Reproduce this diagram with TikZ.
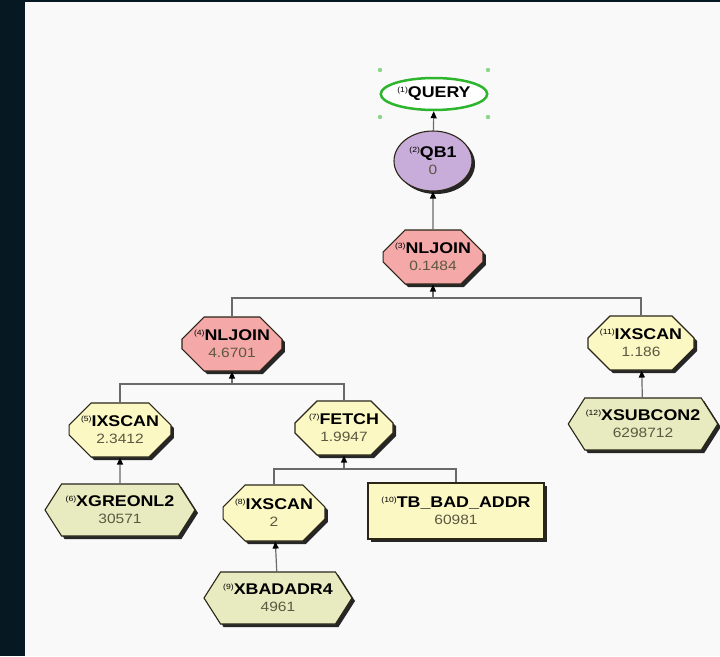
\documentclass[tikz,border=0pt]{standalone}
\usepackage{fontspec}
\setmainfont{Liberation Sans}[FakeStretch=1.15]
\usetikzlibrary{shapes.geometric,shapes.misc,shapes.symbols,shadows,arrows.meta}

\definecolor{backdrop}{HTML}{061821}
\definecolor{panel}{HTML}{F9F9F9}
\definecolor{opyellow}{HTML}{FBF8C4}
\definecolor{ophex}{HTML}{E8EBBF}
\definecolor{oppink}{HTML}{F4A8A8}
\definecolor{oppurple}{HTML}{C8ACD9}
\definecolor{opgreen}{HTML}{2DB52D}
\definecolor{opedge}{HTML}{2B2618}
\definecolor{opwire}{HTML}{6A6A6A}
\definecolor{opnum}{HTML}{5C5842}

\newcommand{\opnr}[1]{{\fontsize{7.5}{8}\selectfont\raisebox{5pt}{(#1)}}}
\newcommand{\oplabel}[3]{\opnr{#1}\textbf{#2}\\{\fontsize{13.5}{17}\selectfont\color{opnum}#3}}

\begin{document}
\begin{tikzpicture}[x=1pt, y=-1pt,
	opplain/.style={draw=opedge, line width=1.1pt, fill=opyellow, align=center, inner sep=1pt,
		font=\fontsize{15.5}{17}\selectfont},
	opbox/.style={opplain, drop shadow={shadow xshift=3pt, shadow yshift=-3pt, fill=black!85, opacity=1}},
	octop/.style={opbox, chamfered rectangle, chamfered rectangle xsep=11pt, chamfered rectangle ysep=11pt, minimum width=96pt, minimum height=54pt},
	hexop/.style={opbox, fill=ophex, signal, signal to=west and east, signal pointer angle=115, minimum width=148pt, minimum height=52pt},
	tabop/.style={opbox, rectangle, minimum width=176pt, minimum height=56pt},
	wire/.style={draw=opwire, line width=1.2pt},
	tip/.style={-{Triangle[length=7pt,width=6pt,black]}}]
	\useasboundingbox (0,0) rectangle (720,656);
	\fill[backdrop] (0,0) rectangle (720,656);
	\fill[panel] (25,2) rectangle (720,656);
	% Paths, nodes and wires:
	\node[opplain, ellipse, fill=white, draw=opgreen, line width=2.5pt, minimum width=100pt, minimum height=32pt] (q1) at (434,94) {\opnr{1}\textbf{QUERY}};
	\node[opbox, ellipse, fill=oppurple, minimum width=78pt, minimum height=60pt] (q2) at (433,161) {\oplabel{2}{QB1}{0}};
	\node[octop, fill=oppink] (q3) at (433,257) {\oplabel{3}{NLJOIN}{0.1484}};
	\node[octop, fill=oppink] (q4) at (232,344) {\oplabel{4}{NLJOIN}{4.6701}};
	\node[octop, minimum width=104pt] (q11) at (641,343) {\oplabel{11}{IXSCAN}{1.186}};
	\node[octop] (q5) at (120,430) {\oplabel{5}{IXSCAN}{2.3412}};
	\node[octop, minimum width=98pt] (q7) at (344,428) {\oplabel{7}{FETCH}{1.9947}};
	\node[hexop, minimum width=150pt] (q6) at (120,510) {\oplabel{6}{XGREONL2}{30571}};
	\node[hexop, minimum width=146pt] (q12) at (643,424) {\oplabel{12}{XSUBCON2}{6298712}};
	\node[octop, minimum width=100pt, minimum height=56pt] (q8) at (274,513) {\oplabel{8}{IXSCAN}{2}};
	\node[tabop] (q10) at (456,511) {\oplabel{10}{TB\_BAD\_ADDR}{60981}};
	\node[hexop] (q9) at (278,598) {\oplabel{9}{XBADADR4}{4961}};
	% selection handles
	\foreach \hx/\hy in {380/70, 488/70, 380/117, 488/117}
		\fill[opgreen!55] (\hx,\hy) circle (2.2);
	\coordinate (bus3) at (433,298);
	\coordinate (bus4) at (232,384);
	\coordinate (bus7) at (344,469);
	\draw[wire, tip] (q2) -- (q1);
	\draw[wire, tip] (q3) -- (q2);
	\draw[wire] (q4.north) |- (bus3);
	\draw[wire] (q11.north) |- (bus3);
	\draw[wire, tip] (bus3) -- (q3.south);
	\draw[wire] (q5.north) |- (bus4);
	\draw[wire] (q7.north) |- (bus4);
	\draw[wire, tip] (bus4) -- (q4.south);
	\draw[wire] (q8.north) |- (bus7);
	\draw[wire] (q10.north) |- (bus7);
	\draw[wire, tip] (bus7) -- (q7.south);
	\draw[wire, tip] (q12) -- (q11);
	\draw[wire, tip] (q6) -- (q5);
	\draw[wire, tip] (q9) -- (q8);
\end{tikzpicture}
\end{document}
